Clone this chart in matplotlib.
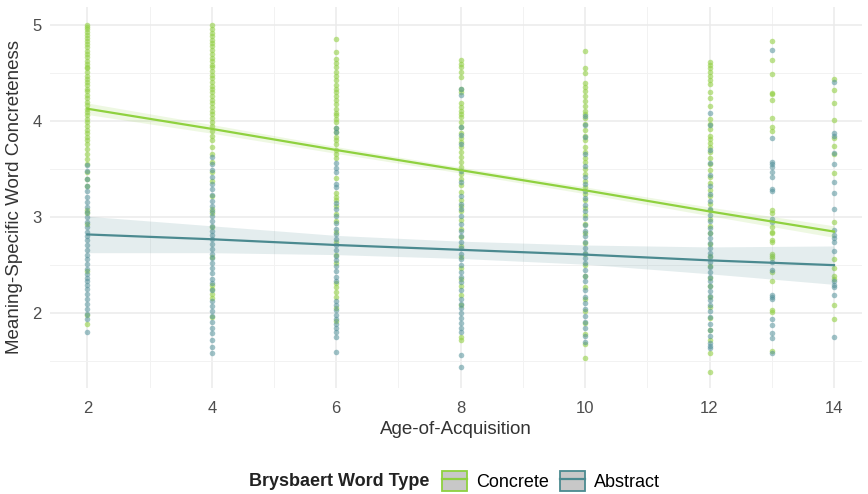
import matplotlib
matplotlib.use("Agg")
import matplotlib.pyplot as plt
from matplotlib.patches import Patch
from matplotlib.lines import Line2D

# concreteness ratings per age-of-acquisition group
aoa_groups = [2, 4, 6, 8, 10, 12, 13, 14]

concrete = {
    2: [5.00, 4.98, 4.96, 4.93, 4.90, 4.87, 4.84, 4.80, 4.77, 4.73, 4.70, 4.67, 4.63, 4.60,
        4.57, 4.55, 4.51, 4.47, 4.44, 4.41, 4.38, 4.34, 4.31, 4.27, 4.24, 4.20, 4.17, 4.13,
        4.10, 4.06, 4.02, 3.99, 3.95, 3.91, 3.88, 3.84, 3.80, 3.76, 3.71, 3.66, 3.61, 3.55,
        3.47, 3.40, 3.33, 3.07, 3.04, 2.93, 2.44, 1.98, 1.89],
    4: [5.00, 4.96, 4.92, 4.89, 4.85, 4.81, 4.78, 4.74, 4.70, 4.66, 4.63, 4.59, 4.56, 4.52,
        4.48, 4.45, 4.41, 4.37, 4.34, 4.30, 4.26, 4.22, 4.19, 4.15, 4.11, 4.07, 4.03, 3.99,
        3.95, 3.90, 3.85, 3.80, 3.73, 3.66, 3.58, 3.47, 3.38, 3.22, 3.08, 3.04, 2.90, 2.58,
        2.29, 2.25, 2.20, 2.16, 1.96],
    6: [4.86, 4.72, 4.65, 4.61, 4.56, 4.51, 4.47, 4.43, 4.38, 4.34, 4.30, 4.26, 4.22, 4.18,
        4.13, 4.09, 4.06, 4.02, 3.99, 3.93, 3.89, 3.84, 3.80, 3.76, 3.70, 3.66, 3.62, 3.41,
        3.25, 3.21, 3.18, 3.12, 3.03, 2.96, 2.85, 2.74, 2.61, 2.52, 2.31, 2.27, 2.22, 2.17,
        2.05, 1.92],
    8: [4.64, 4.60, 4.56, 4.51, 4.46, 4.34, 4.30, 4.19, 4.15, 4.11, 4.07, 4.04, 3.99, 3.94,
        3.88, 3.82, 3.78, 3.73, 3.68, 3.63, 3.58, 3.52, 3.45, 3.40, 3.34, 3.26, 3.18, 3.12,
        3.06, 2.97, 2.88, 2.79, 2.70, 2.58, 2.47, 2.36, 2.28, 2.19, 2.09, 1.75, 1.72],
    10: [4.73, 4.55, 4.50, 4.40, 4.36, 4.31, 4.26, 4.21, 4.16, 4.11, 4.07, 4.03, 3.97, 3.91,
         3.85, 3.80, 3.73, 3.68, 3.62, 3.57, 3.50, 3.45, 3.38, 3.31, 3.24, 3.18, 3.10, 3.02,
         2.93, 2.84, 2.73, 2.62, 2.50, 2.39, 2.27, 2.15, 2.02, 1.90, 1.78, 1.68, 1.53],
    12: [4.62, 4.59, 4.55, 4.51, 4.47, 4.43, 4.39, 4.30, 4.24, 4.16, 4.02, 3.97, 3.92, 3.85,
         3.81, 3.77, 3.73, 3.68, 3.62, 3.55, 3.49, 3.42, 3.36, 3.28, 3.22, 3.14, 3.07, 2.98,
         2.91, 2.83, 2.72, 2.60, 2.49, 2.37, 2.28, 2.17, 2.06, 1.95, 1.82, 1.72, 1.58, 1.39],
    13: [4.84, 4.64, 4.49, 4.29, 4.28, 4.22, 4.03, 3.94, 3.90, 3.07, 3.04, 2.90, 2.85, 2.83,
         2.76, 2.74, 2.62, 2.60, 2.57, 2.43, 2.33, 2.03, 2.01, 1.61],
    14: [4.44, 4.32, 4.19, 4.01, 3.82, 3.74, 3.66, 3.46, 2.95, 2.56, 2.47, 2.39, 2.36, 2.08, 1.94],
}

abstract = {
    2: [3.54, 3.48, 3.40, 3.33, 3.27, 3.21, 3.16, 3.11, 3.05, 3.00, 2.95, 2.90, 2.85, 2.80,
        2.76, 2.71, 2.66, 2.61, 2.56, 2.51, 2.46, 2.41, 2.37, 2.33, 2.29, 2.25, 2.20, 2.15,
        2.10, 2.04, 1.99, 1.94, 1.80],
    4: [3.63, 3.55, 3.49, 3.42, 3.35, 3.29, 3.23, 3.17, 3.12, 3.06, 3.01, 2.96, 2.91, 2.86,
        2.81, 2.77, 2.72, 2.67, 2.62, 2.57, 2.52, 2.47, 2.42, 2.36, 2.31, 2.24, 2.13, 2.07,
        2.02, 1.97, 1.91, 1.85, 1.79, 1.72, 1.65, 1.58],
    6: [3.93, 3.89, 3.56, 3.51, 3.47, 3.35, 3.31, 3.15, 3.09, 3.01, 2.94, 2.88, 2.82, 2.77,
        2.71, 2.66, 2.60, 2.55, 2.49, 2.44, 2.38, 2.33, 2.13, 2.08, 2.03, 1.98, 1.94, 1.89,
        1.85, 1.80, 1.75, 1.59],
    8: [4.34, 4.27, 3.94, 3.86, 3.76, 3.48, 3.37, 3.22, 3.14, 3.08, 3.01, 2.93, 2.86, 2.80,
        2.74, 2.68, 2.62, 2.56, 2.50, 2.43, 2.38, 2.32, 2.24, 2.15, 2.10, 2.05, 2.00, 1.95,
        1.90, 1.85, 1.80, 1.56, 1.44],
    10: [4.05, 3.96, 3.84, 3.66, 3.53, 3.42, 3.35, 3.27, 3.20, 3.13, 3.06, 2.99, 2.92, 2.86,
         2.80, 2.74, 2.68, 2.63, 2.57, 2.52, 2.45, 2.39, 2.33, 2.24, 2.17, 2.11, 2.04, 1.97,
         1.91, 1.84, 1.76, 1.70],
    12: [4.09, 3.96, 3.70, 3.56, 3.44, 3.33, 3.24, 3.17, 3.09, 3.02, 2.96, 2.89, 2.83, 2.78,
         2.73, 2.68, 2.63, 2.58, 2.53, 2.48, 2.43, 2.38, 2.33, 2.28, 2.23, 2.18, 2.14, 2.09,
         2.02, 1.96, 1.89, 1.82, 1.76, 1.69, 1.66, 1.64],
    13: [4.74, 3.83, 3.58, 3.55, 3.52, 3.47, 3.42, 3.29, 3.27, 2.98, 2.95, 2.53, 2.45, 2.19,
         2.17, 2.15, 1.94, 1.88, 1.79, 1.74, 1.58],
    14: [4.41, 3.88, 3.85, 3.67, 3.55, 3.37, 3.25, 3.09, 2.87, 2.81, 2.78, 2.74, 2.65, 2.33,
         2.29, 2.27, 2.19, 1.75],
}

# linear fits with confidence band half-widths
fit_x = [2, 4, 6, 8, 10, 12, 14]
concrete_fit = [4.13, 3.92, 3.70, 3.49, 3.28, 3.06, 2.85]
concrete_ci = [0.06, 0.045, 0.035, 0.03, 0.035, 0.045, 0.06]
abstract_fit = [2.82, 2.77, 2.71, 2.66, 2.61, 2.55, 2.50]
abstract_ci = [0.19, 0.14, 0.10, 0.09, 0.10, 0.14, 0.20]

green = "#8fd13f"
teal = "#4b8a90"

plt.rcParams["font.family"] = ["Liberation Sans", "DejaVu Sans"]

fig = plt.figure(figsize=(8.68, 4.94), dpi=100)
ax = fig.add_axes([50 / 868, 106 / 494, 812 / 868, 381 / 494])

for grp in aoa_groups:
    ys = concrete[grp]
    ax.scatter([grp] * len(ys), ys, s=16, color="#93d045", alpha=0.6, linewidths=0, zorder=2)
for grp in aoa_groups:
    ys = abstract[grp]
    ax.scatter([grp] * len(ys), ys, s=16, color="#52919a", alpha=0.55, linewidths=0, zorder=2)

for fit, ci, col in [(concrete_fit, concrete_ci, green), (abstract_fit, abstract_ci, teal)]:
    lo = [f - c for f, c in zip(fit, ci)]
    hi = [f + c for f, c in zip(fit, ci)]
    ax.fill_between(fit_x, lo, hi, color=col, alpha=0.15, linewidth=0, zorder=3)
    ax.plot(fit_x, fit, color=col, lw=1.6, zorder=4)

ax.set_xlim(1.4, 14.45)
ax.set_ylim(1.22, 5.19)
ax.set_xticks([2, 4, 6, 8, 10, 12, 14])
ax.set_xticks([3, 5, 7, 9, 11, 13], minor=True)
ax.set_yticks([2, 3, 4, 5])
ax.set_yticks([1.5, 2.5, 3.5, 4.5], minor=True)
ax.grid(which="major", color="#ebebeb", lw=1.1, zorder=0)
ax.grid(which="minor", color="#f2f2f2", lw=0.7, zorder=0)
ax.set_axisbelow(True)
for s in ax.spines.values():
    s.set_visible(False)
ax.tick_params(which="both", length=0, labelsize=12, labelcolor="#4d4d4d")
ax.tick_params(axis="y", pad=6)
ax.tick_params(axis="x", pad=9)

ax.set_xlabel("Age-of-Acquisition", fontsize=13.5, color="#333333", labelpad=4)
ax.set_ylabel("Meaning-Specific Word Concreteness", fontsize=13.5, color="#333333", labelpad=7)

# legend
fig.text(249 / 868, 1 - 481 / 494, "Brysbaert Word Type", fontsize=13, fontweight="bold",
         ha="left", va="center", color="#222222")
handles = [(Patch(facecolor="#c8c8c8", edgecolor=green, lw=1.3), Line2D([], [], color=green, lw=1.6)),
           (Patch(facecolor="#c8c8c8", edgecolor=teal, lw=1.3), Line2D([], [], color=teal, lw=1.6))]
fig.legend(handles, ["Concrete", "Abstract"], loc="center left",
           bbox_to_anchor=(442 / 868, 1 - 481 / 494), ncol=2, frameon=False,
           fontsize=13, handlelength=1.4, handleheight=1.4, handletextpad=0.5,
           columnspacing=0.6, borderaxespad=0, borderpad=0)

fig.savefig("out.png", dpi=100)
